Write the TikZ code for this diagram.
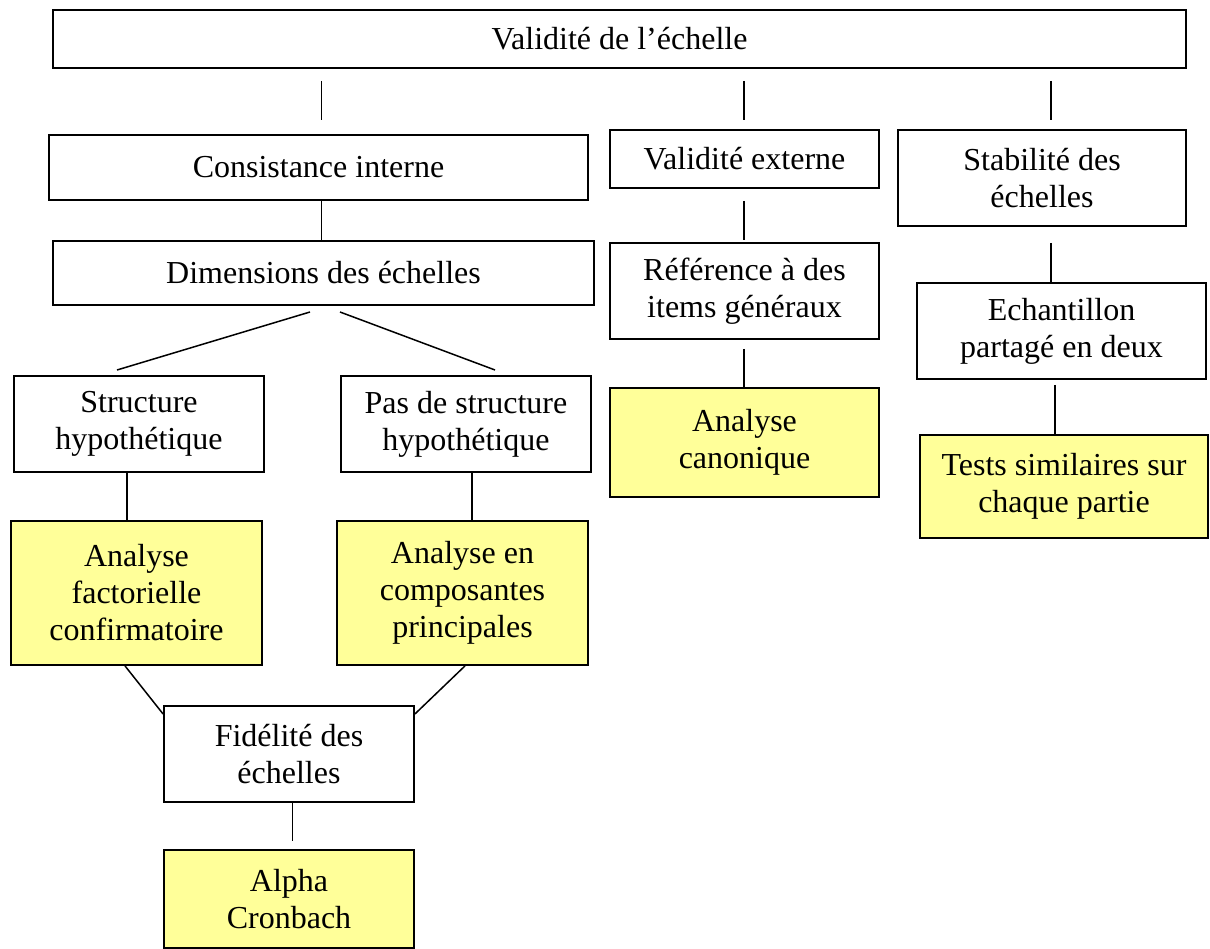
\documentclass[tikz,border=0pt]{standalone}
\usepackage{fontspec}
\setmainfont{Liberation Serif}
\definecolor{paleyellow}{HTML}{FFFF99}
\begin{document}
\begin{tikzpicture}[x=1pt,y=-1pt,
  box/.style={draw=black, line width=1.8pt, fill=white, inner sep=0pt,
    align=center, font=\fontsize{32}{37}\selectfont},
  method/.style={box, fill=paleyellow},
  link/.style={draw=black, line width=1.5pt}]
\useasboundingbox (0,0) rectangle (1210,949);

% root
\node[box, minimum width=1133, minimum height=58] (top) at (619.5,39) {Validité de l’échelle};

% internal consistency branch
\node[box, minimum width=539, minimum height=65] (cons) at (318.5,167.5) {Consistance interne};
\node[box, minimum width=541, minimum height=64] (dim) at (323.5,273) {Dimensions des échelles};
\node[box, minimum width=250, minimum height=96] (struct) at (139,424) {Structure\\hypothétique};
\node[box, minimum width=250, minimum height=96] (pas) at (466,424) {Pas de structure\\hypothétique};
\node[method, minimum width=251, minimum height=144] (afc) at (136.5,593) {Analyse\\factorielle\\confirmatoire};
\node[method, minimum width=251, minimum height=144] (acp) at (462.5,593) {Analyse en\\composantes\\principales};
\node[box, minimum width=250, minimum height=96] (fid) at (289,754) {Fidélité des\\échelles};
\node[method, minimum width=250, minimum height=98] (alpha) at (289,899) {Alpha\\Cronbach};

% external validity branch
\node[box, minimum width=269, minimum height=58] (vext) at (744.5,159) {Validité externe};
\node[box, minimum width=269, minimum height=96] (ref) at (744.5,291) {Référence à des\\items généraux};
\node[method, minimum width=269, minimum height=109] (canon) at (744.5,442.5) {Analyse\\canonique};

% stability branch
\node[box, minimum width=288, minimum height=96] (stab) at (1042,178) {Stabilité des\\échelles};
\node[box, minimum width=289, minimum height=96] (ech) at (1061.5,331) {Echantillon\\partagé en deux};
\node[method, minimum width=288, minimum height=103] (tests) at (1064,486.5) {Tests similaires sur\\chaque partie};

% free-standing connector ends
\coordinate (r1a) at (321.5,81);  \coordinate (r1b) at (321.5,120);
\coordinate (r2a) at (744,81);    \coordinate (r2b) at (744,120);
\coordinate (r3a) at (1051,81);   \coordinate (r3b) at (1051,120);
\coordinate (d1a) at (310,312);   \coordinate (d1b) at (117,370);
\coordinate (d2a) at (340,312);   \coordinate (d2b) at (495,370);
\coordinate (fidA) at (292.6,841);
\coordinate (vA) at (744,201);    \coordinate (vB) at (744,240);
\coordinate (cA) at (744,349);    \coordinate (cB) at (744,387);
\coordinate (sA) at (1051,243);   \coordinate (sB) at (1051,282);
\coordinate (eA) at (1055,385);   \coordinate (eB) at (1055,434);

% connectors
\draw[link] (r1a) -- (r1b);
\draw[link] (r2a) -- (r2b);
\draw[link] (r3a) -- (r3b);
\draw[link] (cons.south -| r1a) -- (dim.north -| r1a);
\draw[link] (d1a) -- (d1b);
\draw[link] (d2a) -- (d2b);
\draw[link] ([xshift=-12pt]struct.south) -- ([xshift=-9.5pt]afc.north);
\draw[link] ([xshift=6pt]pas.south) -- ([xshift=9.5pt]acp.north);
\draw[link] ([xshift=-11.5pt]afc.south) -- ([yshift=40pt]fid.west);
\draw[link] ([xshift=2.5pt]acp.south) -- ([yshift=40pt]fid.east);
\draw[link] (fid.south -| fidA) -- (fidA);
\draw[link] (vA) -- (vB);
\draw[link] (cA) -- (cB);
\draw[link] (sA) -- (sB);
\draw[link] (eA) -- (eB);
\end{tikzpicture}
\end{document}
